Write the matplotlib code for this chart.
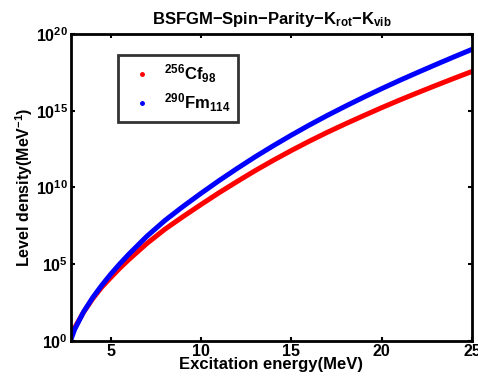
import matplotlib
matplotlib.use("Agg")
import matplotlib.pyplot as plt
from matplotlib.lines import Line2D
import numpy as np

plt.rcParams['font.family'] = ['Liberation Sans', 'DejaVu Sans']
plt.rcParams['font.weight'] = 'bold'
plt.rcParams['mathtext.fontset'] = 'custom'
plt.rcParams['mathtext.rm'] = 'Liberation Sans:bold'
plt.rcParams['mathtext.it'] = 'Liberation Sans:bold'
plt.rcParams['mathtext.bf'] = 'Liberation Sans:bold'
plt.rcParams['mathtext.default'] = 'regular'

# Excitation energy (MeV)
energy = [2.8, 3.0, 3.5, 4.0, 4.5, 5.0, 5.5, 6, 7, 8, 9, 10, 11, 12, 13, 14,
          15, 16, 17, 18, 19, 20, 21, 22, 23, 24, 25]
# log10 of level density (MeV^-1)
log_rho_cf = [0.55, 0.85, 1.88, 2.75, 3.5, 4.13, 4.74, 5.3, 6.35, 7.28, 8.1,
              8.89, 9.66, 10.39, 11.1, 11.77, 12.41, 13.02, 13.6, 14.15,
              14.68, 15.2, 15.7, 16.18, 16.65, 17.11, 17.56]
log_rho_fm = [0.1, 0.75, 1.9, 2.82, 3.62, 4.35, 5.02, 5.65, 6.82, 7.85, 8.76,
              9.62, 10.45, 11.24, 12.0, 12.72, 13.41, 14.07, 14.7, 15.3,
              15.88, 16.44, 16.98, 17.5, 18.01, 18.51, 19.0]

label_cf = r'$^{256}$Cf$_{98}$'
label_fm = r'$^{290}$Fm$_{114}$'

fig = plt.figure(figsize=(4.78, 3.78), dpi=100)
ax = fig.add_axes([0.1485, 0.098, 0.8389, 0.812])

ax.semilogy(energy, 10.0 ** np.array(log_rho_cf), color='red', lw=3.6,
            solid_capstyle='round', solid_joinstyle='round')
ax.semilogy(energy, 10.0 ** np.array(log_rho_fm), color='blue', lw=3.6,
            solid_capstyle='round', solid_joinstyle='round')

ax.set_xlim(2.8, 25)
ax.set_ylim(1, 1e20)
ax.set_xticks([5, 10, 15, 20, 25])
ax.set_yticks([1e0, 1e5, 1e10, 1e15, 1e20])
ax.yaxis.set_minor_locator(matplotlib.ticker.NullLocator())
ax.tick_params(direction='in', top=True, right=True, length=3, width=1.5,
               labelsize=11.5, pad=2)
for s in ax.spines.values():
    s.set_linewidth(2)

ax.set_xlabel('Excitation energy(MeV)', fontsize=12, fontweight='bold',
              labelpad=-1)
ax.set_ylabel(r'Level density(MeV$^{-1}$)', fontsize=11.5, fontweight='bold',
              labelpad=0)
ax.yaxis.set_label_coords(-0.09, 0.5)
ax.set_title(r'BSFGM$-$Spin$-$Parity$-$K$_{rot}$$-$K$_{vib}$', fontsize=12,
             fontweight='bold', pad=7)

handles = [Line2D([], [], ls='none', marker='.', color='red', markersize=5),
           Line2D([], [], ls='none', marker='.', color='blue', markersize=5)]
leg = ax.legend(handles, [label_cf, label_fm], loc='upper left',
                bbox_to_anchor=(0.117, 0.932), borderaxespad=0,
                fontsize=12, frameon=True, fancybox=False,
                edgecolor='black', handlelength=2.0, handletextpad=0.3,
                borderpad=0.45, labelspacing=0.4)
leg.get_frame().set_linewidth(2)
for t in leg.get_texts():
    t.set_fontweight('bold')

fig.savefig('out.png', dpi=100)
